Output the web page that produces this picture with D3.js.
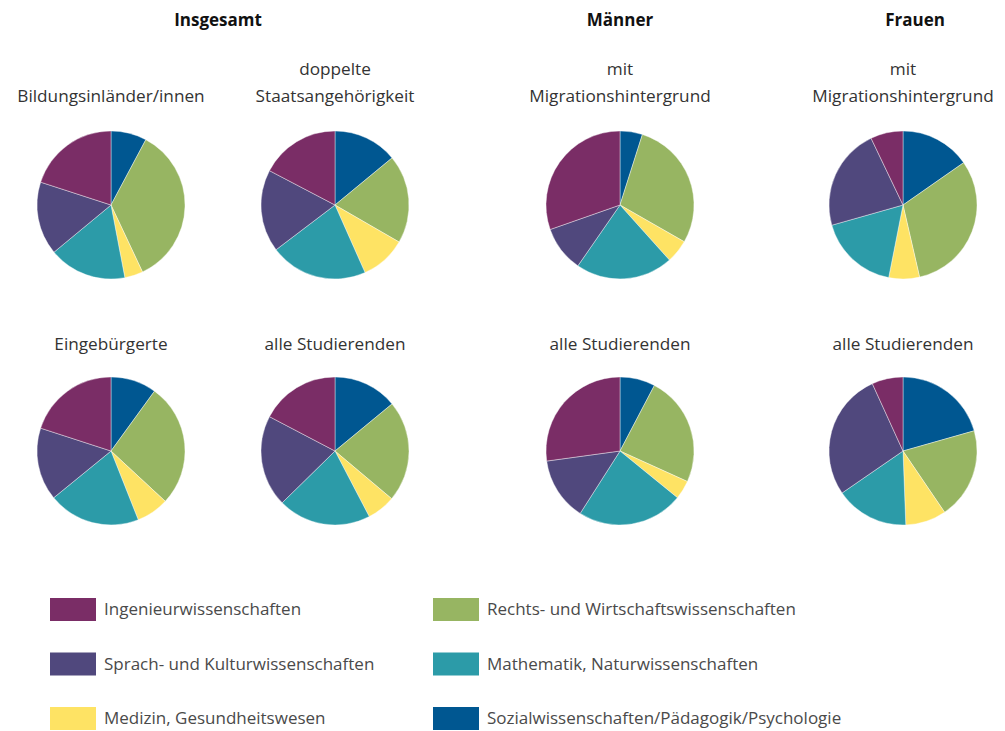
<!DOCTYPE html>
<html>
<head>
<meta charset="utf-8">
<script src="https://cdn.jsdelivr.net/npm/d3@7"></script>
<style>
  body { margin: 0; background: #fff; }
  svg { font-family: "Open Sans", "Noto Sans", sans-serif; }
</style>
</head>
<body>
<svg width="1005" height="731"></svg>
<script>
// Fächergruppen in Reihenfolge im Uhrzeigersinn ab 12 Uhr
var categories = [
  "Sozialwissenschaften/Pädagogik/Psychologie",
  "Rechts- und Wirtschaftswissenschaften",
  "Medizin, Gesundheitswesen",
  "Mathematik, Naturwissenschaften",
  "Sprach- und Kulturwissenschaften",
  "Ingenieurwissenschaften"
];
var colors = ["#005791", "#97b562", "#fee364", "#2c9ba8", "#50487d", "#7a2d66"];

// Anteile in % (aus dem Bild geschätzt)
var bildungsinlaender   = [7.8, 35.2, 4.0, 17.0, 16.0, 20.0];
var doppelte            = [14.0, 19.3, 10.0, 21.3, 18.0, 17.3];
var maennerMigration    = [4.9, 28.4, 5.1, 21.3, 10.0, 30.4];
var frauenMigration     = [15.3, 31.1, 6.7, 17.5, 22.3, 7.1];
var eingebuergerte      = [10.0, 26.9, 7.1, 20.1, 15.9, 20.0];
var alleInsgesamt       = [14.0, 22.1, 6.2, 20.3, 20.0, 17.3];
var maennerAlle         = [7.7, 24.1, 4.1, 23.2, 13.8, 27.2];
var frauenAlle          = [20.6, 19.9, 8.9, 16.0, 27.8, 6.8];

var groupTitles = ["Insgesamt", "Männer", "Frauen"];

var pies = [
  {values: bildungsinlaender, label: ["Bildungsinländer/innen"], col: 0, row: 0},
  {values: doppelte, label: ["doppelte", "Staatsangehörigkeit"], col: 1, row: 0},
  {values: maennerMigration, label: ["mit", "Migrationshintergrund"], col: 2, row: 0},
  {values: frauenMigration, label: ["mit", "Migrationshintergrund"], col: 3, row: 0},
  {values: eingebuergerte, label: ["Eingebürgerte"], col: 0, row: 1},
  {values: alleInsgesamt, label: ["alle Studierenden"], col: 1, row: 1},
  {values: maennerAlle, label: ["alle Studierenden"], col: 2, row: 1},
  {values: frauenAlle, label: ["alle Studierenden"], col: 3, row: 1}
];

var svg = d3.select("svg");

var colX = [111, 335, 620, 903];
var rowY = [205, 451];
var radius = 74;

var color = d3.scaleOrdinal().domain(categories).range(colors);

var pie = d3.pie().sort(null).value(function(d) { return d; });
var arc = d3.arc().innerRadius(0).outerRadius(radius);

// Überschriften
var titleX = [218, 620, 915];
svg.selectAll(".gtitle")
  .data(groupTitles)
  .enter().append("text")
  .attr("class", "gtitle")
  .attr("x", function(d, i) { return titleX[i]; })
  .attr("y", 26)
  .attr("text-anchor", "middle")
  .style("font-size", "17px")
  .style("font-weight", "bold")
  .style("fill", "#111")
  .text(function(d) { return d; });

pies.forEach(function(p) {
  var g = svg.append("g")
    .attr("transform", "translate(" + colX[p.col] + "," + rowY[p.row] + ")");

  g.selectAll("path")
    .data(pie(p.values))
    .enter().append("path")
    .attr("d", arc)
    .style("fill", function(d, i) { return color(categories[i]); })
    .style("stroke", "#fff")
    .style("stroke-width", 0.4);

  var lines = p.label;
  var baseY = p.row == 0 ? 102 : 350;
  lines.forEach(function(t, j) {
    svg.append("text")
      .attr("x", colX[p.col])
      .attr("y", baseY - (lines.length - 1 - j) * 27)
      .attr("text-anchor", "middle")
      .style("font-size", "17.2px")
      .style("fill", "#333")
      .text(t);
  });
});

// Legende
var legendOrder = [5, 1, 4, 3, 2, 0];
var legend = svg.selectAll(".leg")
  .data(legendOrder)
  .enter().append("g")
  .attr("class", "leg")
  .attr("transform", function(d, i) {
    var x = i % 2 == 0 ? 50 : 433;
    var y = 598 + Math.floor(i / 2) * 54.5;
    return "translate(" + x + "," + y + ")";
  });

legend.append("rect")
  .attr("width", 46)
  .attr("height", 23)
  .style("fill", function(d) { return colors[d]; });

legend.append("text")
  .attr("x", 54)
  .attr("y", 17)
  .style("font-size", "17px")
  .style("fill", "#4a4a4a")
  .text(function(d) { return categories[d]; });
</script>
</body>
</html>
